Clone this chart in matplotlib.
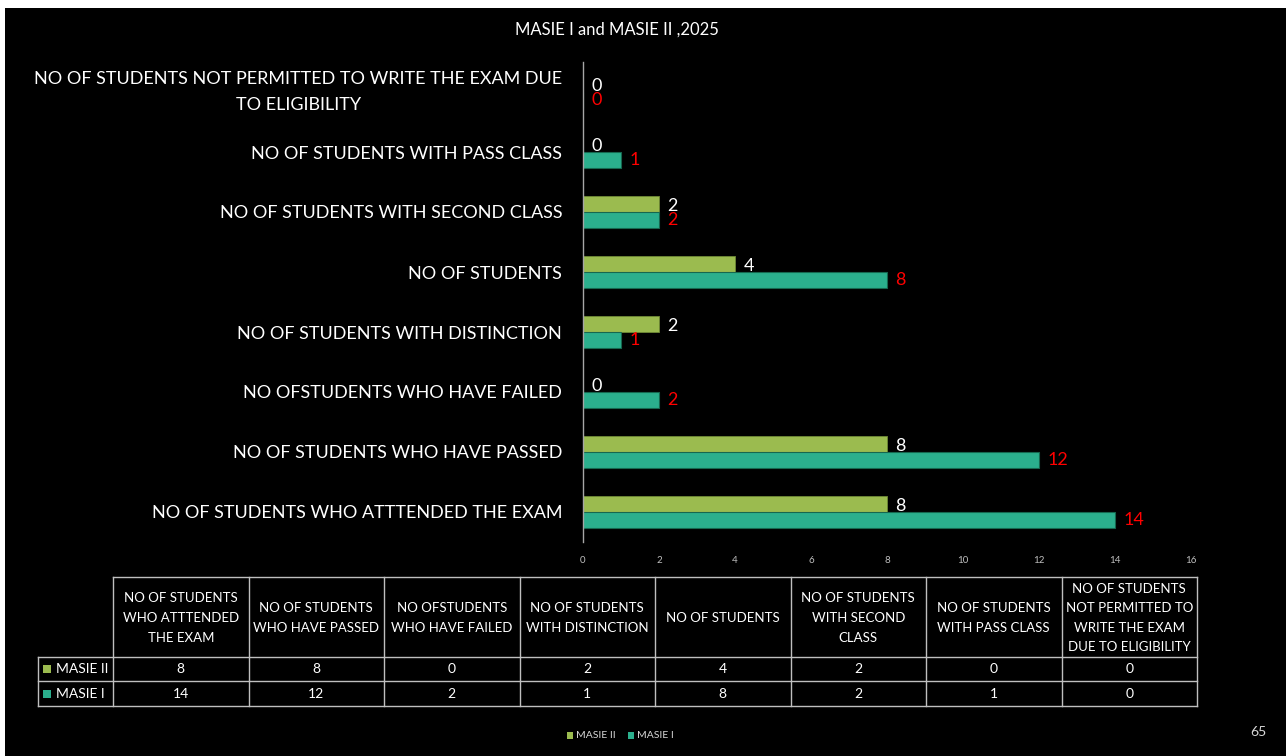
import matplotlib
matplotlib.use("Agg")
import matplotlib.pyplot as plt
from matplotlib.patches import Rectangle
from matplotlib.transforms import ScaledTranslation
import numpy as np

# ---------------- data ----------------
categories = [
    "NO OF STUDENTS WHO ATTTENDED THE EXAM",
    "NO OF STUDENTS WHO HAVE PASSED",
    "NO OFSTUDENTS WHO HAVE FAILED",
    "NO OF STUDENTS WITH DISTINCTION",
    "NO OF STUDENTS",
    "NO OF STUDENTS WITH SECOND CLASS",
    "NO OF STUDENTS WITH PASS CLASS",
    "NO OF STUDENTS NOT PERMITTED TO WRITE THE EXAM DUE\nTO ELIGIBILITY",
]
table_headers = [
    "NO OF STUDENTS\nWHO ATTTENDED\nTHE EXAM",
    "NO OF STUDENTS\nWHO HAVE PASSED",
    "NO OFSTUDENTS\nWHO HAVE FAILED",
    "NO OF STUDENTS\nWITH DISTINCTION",
    "NO OF STUDENTS",
    "NO OF STUDENTS\nWITH SECOND\nCLASS",
    "NO OF STUDENTS\nWITH PASS CLASS",
    "NO OF STUDENTS\nNOT PERMITTED TO\nWRITE THE EXAM\nDUE TO ELIGIBILITY",
]
series_names = ["MASIE II", "MASIE I"]
masie_ii = [8, 8, 0, 2, 4, 2, 0, 0]
masie_i = [14, 12, 2, 1, 8, 2, 1, 0]
x_ticks = [0, 2, 4, 6, 8, 10, 12, 14, 16]
title = "MASIE I and MASIE II ,2025"
page_number = "65"

# ---------------- style ----------------
C_II = "#9BBB4F"
C_I = "#2BAF8D"
FONT = ["Lato", "DejaVu Sans"]
plt.rcParams["font.family"] = FONT

W, H = 1286, 756
fig = plt.figure(figsize=(W / 100, H / 100), dpi=100, facecolor="white")
fig.add_artist(Rectangle((5 / W, 0), 1, (H - 8) / H, transform=fig.transFigure,
                         facecolor="black", edgecolor="none", zorder=-10))

ax = fig.add_axes([583 / W, (H - 542) / H, 608 / W, 480 / H])
ax.set_facecolor("none")
y = np.arange(len(categories))
bh = 0.26
ax.barh(y + bh / 2, masie_ii, height=bh, color=C_II, edgecolor="#6f8a36", linewidth=0.6)
ax.barh(y - bh / 2, masie_i, height=bh, color=C_I, edgecolor="#16674f", linewidth=0.8)
for yi, v in zip(y, masie_ii):
    ax.annotate(str(v), (v, yi + bh / 2), xytext=(6, -1.0), textcoords="offset points",
                va="center", ha="left", color="white", fontsize=13)
for yi, v in zip(y, masie_i):
    ax.annotate(str(v), (v, yi - bh / 2), xytext=(6, -0.5), textcoords="offset points",
                va="center", ha="left", color="#ff0000", fontsize=13)

ax.set_xlim(0, 16)
ax.set_ylim(-0.5, len(categories) - 0.5)
ax.set_xticks(x_ticks)
ax.set_xticklabels([str(t) for t in x_ticks], color="#bfbfbf", fontsize=7)
ax.set_yticks(y)
ax.set_yticklabels(categories, color="white", fontsize=13, multialignment="center",
                   linespacing=1.8)
ax.tick_params(axis="both", length=0)
ax.tick_params(axis="x", pad=10)
ax.tick_params(axis="y", pad=15)
for lbl in ax.get_yticklabels():
    if "\n" in lbl.get_text():
        lbl.set_transform(lbl.get_transform() + ScaledTranslation(0, 7 / 100, fig.dpi_scale_trans))
for s in ["top", "right", "bottom"]:
    ax.spines[s].set_visible(False)
ax.spines["left"].set_color("#a6a6a6")
ax.spines["left"].set_linewidth(1.0)

fig.text(617 / W, 1 - 30 / H, title, color="white", fontsize=12, ha="center", va="center")

# ---------------- data table ----------------
tab = fig.add_axes([0, 0, 1, 1])
tab.set_xlim(0, W)
tab.set_ylim(H, 0)
tab.axis("off")
tab.set_facecolor("none")

lc = "#bfbfbf"
x0, x1 = 113, 1197
lx = 38
yh0, yh1, yr1, yr2 = 577, 657, 681, 706
n = len(table_headers)
cw = (x1 - x0) / n
lw = 1.0
tab.plot([x0, x1], [yh0, yh0], color=lc, lw=lw)
for i in range(n + 1):
    tab.plot([x0 + i * cw] * 2, [yh0, yr2], color=lc, lw=lw)
for yy in (yh1, yr1, yr2):
    tab.plot([lx, x1], [yy, yy], color=lc, lw=lw)
tab.plot([lx, lx], [yh1, yr2], color=lc, lw=lw)

for i, hdr in enumerate(table_headers):
    tab.text(x0 + (i + 0.5) * cw, (yh0 + yh1) / 2 + 1, hdr, ha="center", va="center",
             color="white", fontsize=9.5, linespacing=1.75)
rows = [(series_names[0], masie_ii, C_II, (yh1 + yr1) / 2),
        (series_names[1], masie_i, C_I, (yr1 + yr2) / 2)]
for name, vals, col, yc in rows:
    tab.add_patch(Rectangle((43, yc - 4), 8, 8, facecolor=col, edgecolor="none"))
    tab.text(56, yc, name, ha="left", va="center", color="white", fontsize=10)
    for i, v in enumerate(vals):
        tab.text(x0 + (i + 0.5) * cw, yc, str(v), ha="center", va="center",
                 color="white", fontsize=10)

# bottom legend
ly = 735
tab.add_patch(Rectangle((567, ly - 3.5), 6, 7, facecolor=C_II, edgecolor="none"))
tab.text(576, ly, series_names[0], ha="left", va="center", color="#d9d9d9", fontsize=7.5)
tab.add_patch(Rectangle((628, ly - 3.5), 6, 7, facecolor=C_I, edgecolor="none"))
tab.text(637, ly, series_names[1], ha="left", va="center", color="#d9d9d9", fontsize=7.5)

tab.text(1258, 732, page_number, ha="center", va="center", color="#d9d9d9", fontsize=10)

fig.savefig("out.png", dpi=100, facecolor=fig.get_facecolor())
